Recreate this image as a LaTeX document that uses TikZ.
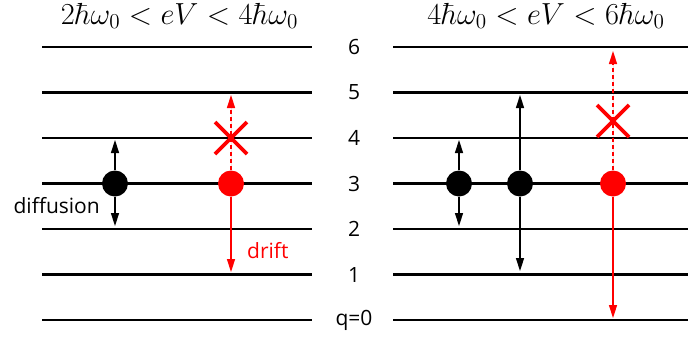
\documentclass[tikz,border=0pt]{standalone}
\usepackage{fontspec}
\setsansfont{Open Sans}
\usetikzlibrary{arrows.meta}
\definecolor{myred}{RGB}{255,0,0}
\tikzset{
  level/.style={line width=2.3pt},
  lab/.style={font=\sffamily\fontsize{21}{24}\selectfont, inner sep=0pt},
  ttl/.style={font=\fontsize{20.74}{24}\selectfont, inner sep=0pt},
  dot/.style={circle, fill=black, minimum size=26pt, inner sep=0pt},
  rdot/.style={circle, fill=myred, minimum size=26pt, inner sep=0pt},
  arr/.style={line width=1.5pt, -{Triangle[length=13pt,width=8pt]}},
  rarr/.style={arr, draw=myred, fill=myred},
  rdash/.style={rarr, dash pattern=on 4pt off 3pt},
  crossline/.style={draw=myred, line width=3.8pt}
}
\begin{document}
\begin{tikzpicture}[x=1pt,y=-1pt]
\useasboundingbox (0,0) rectangle (688,338);
% levels
\foreach \q/\t in {0/q=0,1/1,2/2,3/3,4/4,5/5,6/6}{
  \pgfmathsetmacro{\yy}{320-45.5*\q}
  \draw[level] (42,\yy) -- (312,\yy);
  \draw[level] (393,\yy) -- (688,\yy);
  \node[lab] (l\q) at (354,\yy) {\t};
}
% titles
\node[ttl] (t1) at (179.5,16) {\scalebox{1.47}{$2\hbar\omega_0 < eV < 4\hbar\omega_0$}};
\node[ttl] (t2) at (546,16) {\scalebox{1.47}{$4\hbar\omega_0 < eV < 6\hbar\omega_0$}};
% left panel
\node[dot] (a) at (115,183.5) {};
\coordinate (aup) at (115,140);
\coordinate (adn) at (115,226);
\draw[arr] (a) -- (aup);
\draw[arr] (a) -- (adn);
\node[lab, anchor=east] (diff) at (100,206) {diffusion};
\node[rdot] (b) at (231,183.5) {};
\coordinate (bup) at (231,95);
\coordinate (bdn) at (231,272);
\draw[rdash] (b) -- (bup);
\draw[rarr] (b) -- (bdn);
\coordinate (bx) at (231,138);
\draw[crossline] ([shift={(-16,-16)}]bx) -- ([shift={(16,16)}]bx);
\draw[crossline] ([shift={(-16,16)}]bx) -- ([shift={(16,-16)}]bx);
\node[lab, text=myred, anchor=west] (drift) at (247,251) {drift};
% right panel
\node[dot] (c) at (459,183.5) {};
\coordinate (cup) at (459,140);
\coordinate (cdn) at (459,226);
\draw[arr] (c) -- (cup);
\draw[arr] (c) -- (cdn);
\node[dot] (d) at (520,183.5) {};
\coordinate (dup) at (520,95);
\coordinate (ddn) at (520,271);
\draw[arr] (d) -- (dup);
\draw[arr] (d) -- (ddn);
\node[rdot] (e) at (613,183.5) {};
\coordinate (eup) at (613,51);
\coordinate (edn) at (613,318);
\draw[rdash] (e) -- (eup);
\draw[rarr] (e) -- (edn);
\coordinate (ex) at (613,121);
\draw[crossline] ([shift={(-16,-16)}]ex) -- ([shift={(16,16)}]ex);
\draw[crossline] ([shift={(-16,16)}]ex) -- ([shift={(16,-16)}]ex);
\end{tikzpicture}
\end{document}
